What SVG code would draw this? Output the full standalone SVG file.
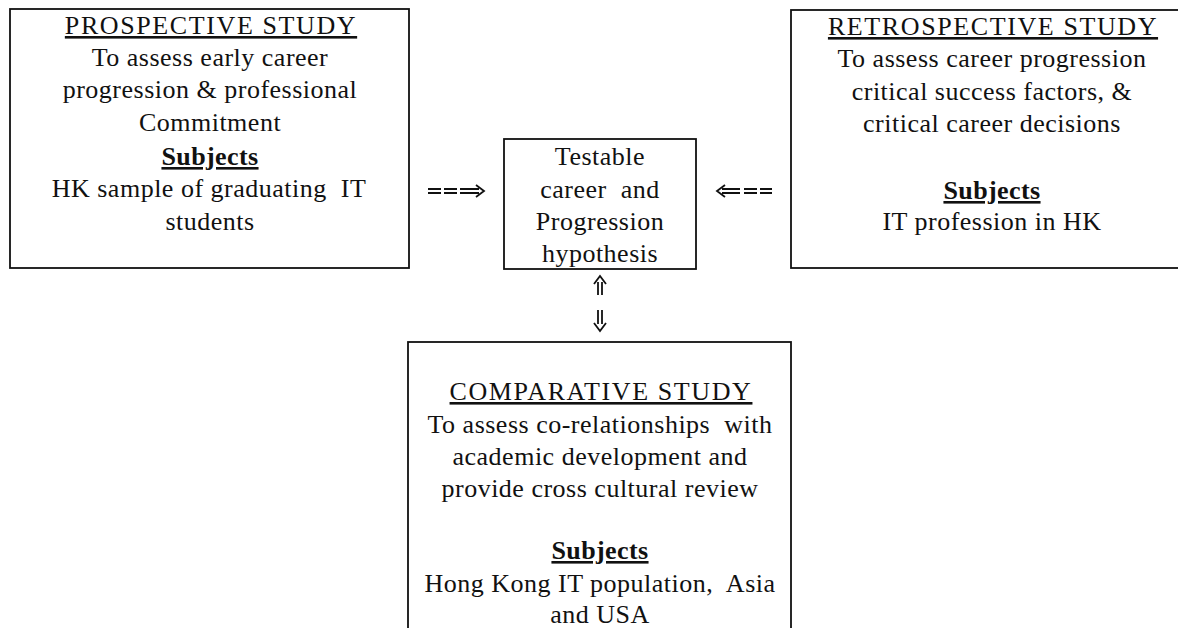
<svg xmlns="http://www.w3.org/2000/svg" width="1178" height="628" viewBox="0 0 1178 628">
<style>
.box{fill:#fff;stroke:#111;stroke-width:1.8}
text{font-family:"Liberation Serif","Times New Roman",serif;font-size:26px;fill:#111;text-anchor:middle;letter-spacing:0.5px}
.t{text-decoration:underline;letter-spacing:1.6px}
.s{font-weight:bold;text-decoration:underline;letter-spacing:0.4px}
.c line,.c path{stroke:#111;stroke-width:1.8;fill:none}
</style>
<rect width="1178" height="628" fill="#fff"/>
<g id="prospective">
<rect class="box" x="10" y="9" width="399" height="259"/>
<text class="t" x="211" y="34">PROSPECTIVE STUDY</text>
<text x="210" y="66">To assess early career</text>
<text x="210" y="98">progression &amp; professional</text>
<text x="210" y="131">Commitment</text>
<text class="s" x="210" y="165">Subjects</text>
<text x="209" y="197">HK sample of graduating&#160; IT</text>
<text x="210" y="230">students</text>
</g>
<g id="hypothesis">
<rect class="box" x="504" y="139" width="192" height="130"/>
<text x="600" y="165">Testable</text>
<text x="600" y="198">career&#160; and</text>
<text x="600" y="230">Progression</text>
<text x="600" y="262">hypothesis</text>
</g>
<g id="retrospective">
<rect class="box" x="791" y="10" width="402" height="258"/>
<text class="t" x="993" y="35">RETROSPECTIVE STUDY</text>
<text x="992" y="67">To assess career progression</text>
<text x="992" y="100">critical success factors, &amp;</text>
<text x="992" y="132">critical career decisions</text>
<text class="s" x="992" y="199">Subjects</text>
<text x="992" y="230">IT profession in HK</text>
</g>
<g id="comparative">
<rect class="box" x="408" y="342" width="383" height="300"/>
<text class="t" x="601" y="400">COMPARATIVE STUDY</text>
<text x="600" y="433">To assess co-relationships&#160; with</text>
<text x="600" y="465">academic development and</text>
<text x="600" y="497">provide cross cultural review</text>
<text class="s" x="600" y="559">Subjects</text>
<text x="600" y="592">Hong Kong IT population,&#160; Asia</text>
<text x="600" y="623">and USA</text>
</g>
<g id="connectors" class="c">
<path d="M428,189H441M444,189H457M428,193H441M444,193H457M460,189H479M460,193H479M476,185L484,191L476,197"/>
<path d="M744,189H757M760,189H772M744,193H757M760,193H772M722,189H740M722,193H740M725,185L717,191L725,197"/>
<path d="M598,282V295M602,282V295M594,284L600,276L606,284"/>
<path d="M598,310V324M602,310V324M594,323L600,331L606,323"/>
</g>
</svg>
